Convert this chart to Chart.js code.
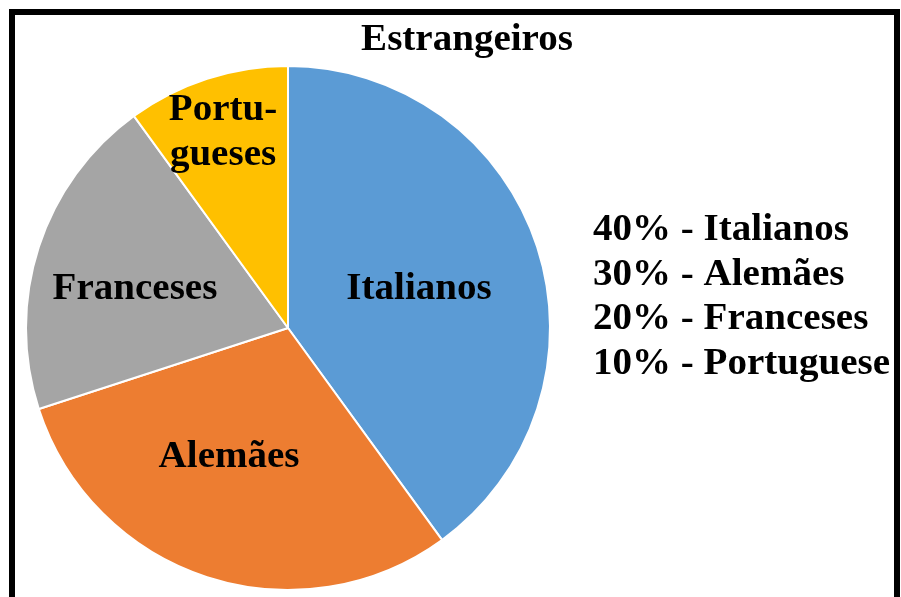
<!DOCTYPE html>
<html>
<head>
<meta charset="utf-8">
<script src="https://cdn.jsdelivr.net/npm/chart.js@4.4.0/dist/chart.umd.min.js"></script>
<style>
  html, body { margin: 0; padding: 0; background: #fff; }
  #wrap { position: absolute; left: 0; top: 0; width: 901px; height: 597px; }
</style>
</head>
<body>
<div id="wrap"><canvas id="c" width="901" height="597"></canvas></div>
<script>
// ---- data ----
const categories = ["Italianos", "Alemães", "Franceses", "Portugueses"];
const percentages = [40, 30, 20, 10];
const sliceLabels = [["Italianos"], ["Alemães"], ["Franceses"], ["Portu-", "gueses"]];
const listLabels = ["Italianos", "Alemães", "Franceses", "Portuguese"];
const chartTitle = "Estrangeiros";
const colors = ["#5B9BD5", "#ED7D31", "#A5A5A5", "#FFC000"];

// label placement (relative to pie centre, in units of radius)
const labelOffsets = [
  { dx: 0.500, dy: -0.111 },
  { dx: -0.225, dy: 0.531 },
  { dx: -0.584, dy: -0.111 },
  { dx: -0.248, dy: -0.794 }
];
const FONT = "bold 37px 'Liberation Serif', 'Times New Roman', serif";
const XSCALE = 1.055;

function drawText(ctx, t, x, y, align) {
  ctx.save();
  ctx.translate(x, y);
  ctx.scale(XSCALE, 1);
  ctx.textAlign = align;
  ctx.fillText(t, 0, 0);
  ctx.restore();
}

const textPlugin = {
  id: 'textPlugin',
  beforeDraw(chart) {
    const ctx = chart.ctx;
    ctx.save();
    ctx.fillStyle = '#fff';
    ctx.fillRect(0, 0, chart.width, chart.height);
    ctx.fillStyle = '#000';
    ctx.fillRect(9, 9, 891, 6);   // top
    ctx.fillRect(9, 9, 6, 600);   // left
    ctx.fillRect(894, 9, 6, 600); // right
    ctx.restore();
  },
  afterDraw(chart) {
    const ctx = chart.ctx;
    const arc = chart.getDatasetMeta(0).data[0];
    const cx = arc.x, cy = arc.y, R = arc.outerRadius;
    ctx.save();
    ctx.fillStyle = '#000';
    ctx.font = FONT;
    ctx.textBaseline = 'alphabetic';
    drawText(ctx, chartTitle, 467, 50, 'center');
    sliceLabels.forEach((lines, i) => {
      const o = labelOffsets[i];
      lines.forEach((t, j) => {
        drawText(ctx, t, cx + o.dx * R, cy + o.dy * R + j * 45, 'center');
      });
    });
    percentages.forEach((p, i) => {
      drawText(ctx, p + "% - " + listLabels[i], 593, 240 + i * 44.7, 'left');
    });
    ctx.restore();
  }
};

new Chart(document.getElementById('c'), {
  type: 'pie',
  data: {
    labels: categories,
    datasets: [{
      data: percentages,
      backgroundColor: colors,
      borderColor: '#ffffff',
      borderWidth: 2
    }]
  },
  options: {
    responsive: false,
    animation: false,
    layout: { padding: { left: 25, top: 65, right: 350, bottom: 6 } },
    plugins: {
      legend: { display: false },
      title: { display: false },
      tooltip: { enabled: false }
    }
  },
  plugins: [textPlugin]
});
</script>
</body>
</html>
